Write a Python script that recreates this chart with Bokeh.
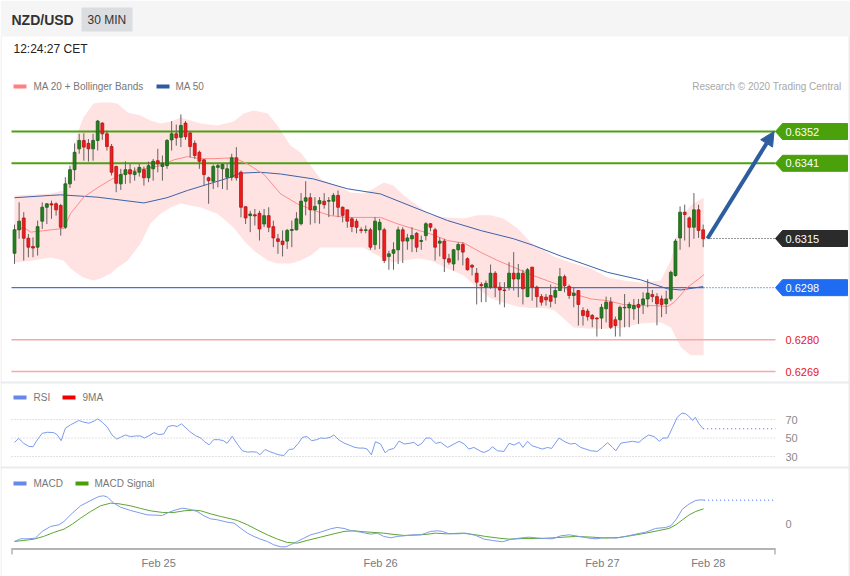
from bokeh.plotting import figure
from bokeh.models import Range1d, ColumnDataSource, Arrow, NormalHead
from bokeh.core.properties import value
from bokeh.embed import file_html
from bokeh.resources import INLINE

# ---------------- data ----------------
opens = [0.63099, 0.63180, 0.63221, 0.63151, 0.63122, 0.63120, 0.63210, 0.63258, 0.63270, 0.63270,
         0.63264, 0.63189, 0.63339, 0.63388, 0.63460, 0.63489, 0.63479, 0.63460, 0.63489, 0.63549,
         0.63512, 0.63468, 0.63399, 0.63339, 0.63371, 0.63388, 0.63371, 0.63379, 0.63388, 0.63360,
         0.63391, 0.63419, 0.63399, 0.63402, 0.63491, 0.63512, 0.63500, 0.63549, 0.63515, 0.63479,
         0.63448, 0.63422, 0.63360, 0.63348, 0.63396, 0.63391, 0.63362, 0.63362, 0.63429, 0.63379,
         0.63260, 0.63229, 0.63232, 0.63237, 0.63200, 0.63229, 0.63191, 0.63149, 0.63141, 0.63141,
         0.63178, 0.63180, 0.63201, 0.63279, 0.63291, 0.63249, 0.63270, 0.63279, 0.63279, 0.63279,
         0.63299, 0.63258, 0.63249, 0.63218, 0.63210, 0.63180, 0.63178, 0.63180, 0.63129, 0.63180,
         0.63180, 0.63088, 0.63099, 0.63111, 0.63180, 0.63141, 0.63149, 0.63168, 0.63140, 0.63160,
         0.63201, 0.63180, 0.63134, 0.63141, 0.63080, 0.63062, 0.63111, 0.63129, 0.63080, 0.63057,
         0.63030, 0.62991, 0.62982, 0.62982, 0.63030, 0.62982, 0.62972, 0.62982, 0.63030, 0.63010,
         0.63030, 0.62949, 0.63051, 0.62982, 0.62949, 0.62947, 0.62953, 0.62947, 0.62970, 0.63018,
         0.62984, 0.62953, 0.62970, 0.62901, 0.62899, 0.62884, 0.62875, 0.62875, 0.62907, 0.62930,
         0.62869, 0.62869, 0.62910, 0.62910, 0.62907, 0.62922, 0.62922, 0.62941, 0.62956, 0.62949,
         0.62941, 0.62924, 0.62941, 0.63022, 0.63152, 0.63241, 0.63221, 0.63189, 0.63249, 0.63180]
highs = [0.63198, 0.63275, 0.63241, 0.63166, 0.63154, 0.63212, 0.63275, 0.63272, 0.63281, 0.63275,
         0.63270, 0.63362, 0.63402, 0.63479, 0.63512, 0.63514, 0.63494, 0.63512, 0.63560, 0.63552,
         0.63523, 0.63477, 0.63402, 0.63391, 0.63417, 0.63408, 0.63396, 0.63408, 0.63399, 0.63416,
         0.63425, 0.63460, 0.63437, 0.63494, 0.63556, 0.63544, 0.63579, 0.63556, 0.63517, 0.63489,
         0.63454, 0.63425, 0.63364, 0.63406, 0.63408, 0.63408, 0.63410, 0.63443, 0.63466, 0.63385,
         0.63260, 0.63246, 0.63252, 0.63246, 0.63252, 0.63258, 0.63212, 0.63166, 0.63178, 0.63183,
         0.63212, 0.63241, 0.63307, 0.63348, 0.63307, 0.63293, 0.63293, 0.63307, 0.63293, 0.63307,
         0.63316, 0.63261, 0.63249, 0.63224, 0.63218, 0.63189, 0.63195, 0.63187, 0.63224, 0.63218,
         0.63187, 0.63108, 0.63137, 0.63191, 0.63189, 0.63166, 0.63189, 0.63172, 0.63160, 0.63206,
         0.63203, 0.63187, 0.63154, 0.63149, 0.63097, 0.63114, 0.63137, 0.63137, 0.63085, 0.63062,
         0.63048, 0.62999, 0.63005, 0.63060, 0.63037, 0.62999, 0.62999, 0.63068, 0.63103, 0.63062,
         0.63042, 0.63048, 0.63051, 0.62987, 0.62958, 0.62958, 0.62991, 0.62984, 0.63048, 0.63025,
         0.62991, 0.62979, 0.62972, 0.62912, 0.62907, 0.62889, 0.62878, 0.62924, 0.62949, 0.62947,
         0.62880, 0.62918, 0.62958, 0.62930, 0.62941, 0.62941, 0.62964, 0.63009, 0.62972, 0.62961,
         0.62953, 0.62970, 0.63039, 0.63149, 0.63261, 0.63267, 0.63226, 0.63307, 0.63267, 0.63198]
lows = [0.63062, 0.63149, 0.63074, 0.63085, 0.63085, 0.63091, 0.63183, 0.63200, 0.63218, 0.63229,
        0.63160, 0.63183, 0.63325, 0.63350, 0.63443, 0.63419, 0.63416, 0.63419, 0.63454, 0.63491,
        0.63454, 0.63368, 0.63310, 0.63318, 0.63339, 0.63341, 0.63350, 0.63364, 0.63333, 0.63345,
        0.63350, 0.63379, 0.63350, 0.63391, 0.63454, 0.63471, 0.63466, 0.63491, 0.63431, 0.63425,
        0.63391, 0.63333, 0.63270, 0.63321, 0.63327, 0.63321, 0.63318, 0.63350, 0.63350, 0.63223,
        0.63200, 0.63172, 0.63195, 0.63143, 0.63189, 0.63172, 0.63120, 0.63097, 0.63088, 0.63114,
        0.63120, 0.63178, 0.63195, 0.63230, 0.63198, 0.63203, 0.63201, 0.63253, 0.63224, 0.63230,
        0.63224, 0.63206, 0.63187, 0.63172, 0.63168, 0.63168, 0.63168, 0.63111, 0.63111, 0.63114,
        0.63065, 0.63042, 0.63042, 0.63062, 0.63065, 0.63111, 0.63103, 0.63103, 0.63111, 0.63143,
        0.63175, 0.63074, 0.63088, 0.63034, 0.63060, 0.63039, 0.63074, 0.63057, 0.63039, 0.63022,
        0.62922, 0.62930, 0.62930, 0.62976, 0.62947, 0.62922, 0.62912, 0.62970, 0.62970, 0.62947,
        0.62922, 0.62947, 0.62935, 0.62912, 0.62918, 0.62918, 0.62912, 0.62924, 0.62970, 0.62964,
        0.62941, 0.62912, 0.62849, 0.62849, 0.62866, 0.62843, 0.62811, 0.62837, 0.62860, 0.62837,
        0.62811, 0.62811, 0.62843, 0.62843, 0.62869, 0.62855, 0.62889, 0.62912, 0.62930, 0.62850,
        0.62878, 0.62889, 0.62933, 0.63018, 0.63111, 0.63143, 0.63120, 0.63149, 0.63152, 0.63120]
closes = [0.63180, 0.63210, 0.63151, 0.63120, 0.63117, 0.63191, 0.63258, 0.63270, 0.63266, 0.63249,
          0.63189, 0.63339, 0.63388, 0.63448, 0.63489, 0.63466, 0.63460, 0.63489, 0.63556, 0.63512,
          0.63468, 0.63379, 0.63341, 0.63371, 0.63388, 0.63373, 0.63381, 0.63396, 0.63360, 0.63402,
          0.63417, 0.63408, 0.63410, 0.63489, 0.63512, 0.63498, 0.63541, 0.63502, 0.63468, 0.63437,
          0.63417, 0.63371, 0.63350, 0.63399, 0.63402, 0.63406, 0.63391, 0.63429, 0.63360, 0.63258,
          0.63221, 0.63235, 0.63228, 0.63183, 0.63229, 0.63189, 0.63152, 0.63140, 0.63129, 0.63178,
          0.63181, 0.63218, 0.63279, 0.63291, 0.63249, 0.63261, 0.63281, 0.63267, 0.63281, 0.63299,
          0.63258, 0.63230, 0.63210, 0.63191, 0.63189, 0.63178, 0.63180, 0.63120, 0.63210, 0.63206,
          0.63074, 0.63097, 0.63111, 0.63180, 0.63141, 0.63152, 0.63160, 0.63120, 0.63143, 0.63201,
          0.63189, 0.63120, 0.63141, 0.63080, 0.63068, 0.63111, 0.63129, 0.63103, 0.63042, 0.63051,
          0.62999, 0.62987, 0.62995, 0.63030, 0.62982, 0.62972, 0.62970, 0.63030, 0.63010, 0.63030,
          0.62976, 0.63042, 0.62982, 0.62949, 0.62930, 0.62938, 0.62933, 0.62970, 0.63018, 0.62987,
          0.62953, 0.62961, 0.62922, 0.62884, 0.62880, 0.62872, 0.62872, 0.62912, 0.62930, 0.62843,
          0.62849, 0.62912, 0.62912, 0.62922, 0.62918, 0.62912, 0.62941, 0.62961, 0.62949, 0.62924,
          0.62922, 0.62941, 0.63033, 0.63141, 0.63241, 0.63233, 0.63189, 0.63249, 0.63178, 0.63149]

ma20_idx = [0, 2, 3.5, 6.3, 10.7, 12.1, 15, 17.9, 20.8, 23, 25.8, 28, 31.6, 34.5, 37.4, 40.3, 43.1,
            47.5, 50.4, 54, 57.6, 61.2, 64.8, 68.4, 72, 75.6, 79.2, 82.8, 86.4, 90, 93.7, 97.3, 100.9,
            104.5, 108.1, 111.7, 115.3, 118.2, 121.1, 124.7, 128.3, 131.9, 135.5, 138.4, 141.3, 142.7,
            145.6, 149.2]
ma20_val = [0.63177, 0.63188, 0.63172, 0.63177, 0.63185, 0.63236, 0.63293, 0.63325, 0.63353, 0.63371,
            0.63385, 0.63391, 0.63402, 0.63422, 0.63433, 0.63426, 0.63426, 0.63429, 0.63408, 0.63371,
            0.63304, 0.63270, 0.63247, 0.63229, 0.63223, 0.63223, 0.63223, 0.63201, 0.63183, 0.63166,
            0.63143, 0.63134, 0.63102, 0.63074, 0.63050, 0.63025, 0.63004, 0.62987, 0.62958, 0.62941,
            0.62935, 0.62921, 0.62918, 0.62918, 0.62915, 0.62929, 0.62981, 0.63025]

ma50_idx = [0, 7.8, 10, 17.9, 28, 33, 37.4, 41.7, 46.8, 48.9, 53.2, 57.6, 64.7, 72, 79.2, 86.4, 93.7,
            101, 108, 112.3, 118.4, 121, 128.3, 135.5, 141.3, 144.2, 149]
ma50_val = [0.63291, 0.63299, 0.63301, 0.63293, 0.63273, 0.63291, 0.63316, 0.63337, 0.63362, 0.63376,
            0.63379, 0.63373, 0.63356, 0.63322, 0.63304, 0.63258, 0.63212, 0.63177, 0.63149, 0.63126,
            0.63088, 0.63074, 0.63033, 0.63007, 0.62976, 0.62972, 0.62984]

bb_idx = [0, 4.1, 7.8, 10.6, 12.1, 13.6, 14.9, 17.1, 18.6, 20.8, 22.3, 24.5, 27.3, 29.4, 31.6, 33.8,
          35.9, 38.1, 40.3, 43.9, 47.4, 49.6, 51.7, 54.8, 56.9, 59.7, 61.9, 64.1, 66.2, 68.4, 70.6,
          72.7, 75.5, 77.7, 79.9, 82.0, 84.2, 87.2, 90.0, 93.7, 97.2, 100.2, 103.0, 105.8, 108.9,
          111.7, 114.5, 116.7, 121.0, 124.7, 128.4, 131.8, 135.5, 139.8, 142.0, 144.2, 146.3, 149.1]
bb_upper = [0.63299, 0.63302, 0.63306, 0.63316, 0.63396, 0.63513, 0.63568, 0.63617, 0.63620, 0.63620,
            0.63617, 0.63586, 0.63575, 0.63558, 0.63548, 0.63555, 0.63568, 0.63558, 0.63548, 0.63541,
            0.63555, 0.63582, 0.63593, 0.63582, 0.63541, 0.63472, 0.63447, 0.63402, 0.63357, 0.63340,
            0.63326, 0.63309, 0.63306, 0.63323, 0.63344, 0.63333, 0.63299, 0.63264, 0.63230, 0.63223,
            0.63219, 0.63230, 0.63230, 0.63219, 0.63185, 0.63136, 0.63109, 0.63088, 0.63064, 0.63046,
            0.63015, 0.63005, 0.62998, 0.63005, 0.63074, 0.63223, 0.63264, 0.63292]
bb_lower = [0.63067, 0.63074, 0.63084, 0.63074, 0.63046, 0.63029, 0.63015, 0.63005, 0.63012, 0.63029,
            0.63050, 0.63074, 0.63133, 0.63202, 0.63236, 0.63257, 0.63271, 0.63264, 0.63257, 0.63236,
            0.63188, 0.63143, 0.63109, 0.63074, 0.63064, 0.63064, 0.63074, 0.63091, 0.63119, 0.63119,
            0.63119, 0.63119, 0.63119, 0.63098, 0.63081, 0.63067, 0.63074, 0.63081, 0.63074, 0.63046,
            0.63022, 0.62977, 0.62943, 0.62929, 0.62914, 0.62910, 0.62910, 0.62903, 0.62842, 0.62838,
            0.62838, 0.62842, 0.62856, 0.62860, 0.62842, 0.62773, 0.62746, 0.62746]

rsi_idx = [0, 0.9, 2.0, 3.1, 4.0, 4.9, 6.0, 7.1, 8.5, 9.2, 10.1, 11.0, 12.1, 13.9, 15.0, 16.1, 17.2,
           18.0, 19.0, 20.1, 21.1, 22.1, 22.9, 24.0, 25.1, 26.2, 27.3, 28.1, 29.1, 30.2, 31.2, 32.3,
           33.2, 34.3, 35.2, 36.1, 37.1, 38.1, 39.2, 40.3, 41.1, 42.1, 43.1, 44.2, 45.2, 46.0, 47.1,
           48.2, 49.3, 50.4, 51.4, 52.4, 53.1, 54.2, 55.3, 56.3, 57.2, 58.3, 59.4, 60.3, 61.4, 62.3,
           63.3, 64.3, 65.4, 66.2, 67.3, 68.3, 69.1, 70.2, 71.3, 72.4, 73.4, 74.5, 75.6, 76.3, 77.2,
           78.1, 79.2, 80.2, 81.0, 82.1, 83.2, 84.3, 85.4, 86.4, 87.3, 88.2, 89.0, 90.0, 91.1, 92.2,
           93.7, 95.1, 96.2, 97.3, 98.3, 99.4, 100.9, 101.6, 102.7, 103.4, 104.5, 105.9, 107.0, 108.1,
           109.2, 110.0, 111.0, 112.0, 113.1, 114.2, 115.3, 116.2, 117.8, 119.3, 120.3, 121.3, 122.5,
           123.6, 124.7, 126.1, 127.2, 128.3, 129.4, 130.1, 131.2, 132.2, 133.7, 135.1, 136.2, 137.2,
           138.4, 139.5, 140.3, 141.3, 142.4, 143.4, 144.4, 145.2, 146.1, 146.7, 147.3, 148.1, 149.0]
rsi_val = [45.3, 49.6, 44.2, 40.9, 40.5, 47.8, 55.1, 56.2, 55.8, 53.6, 47.1, 60.5, 64.2, 68.9, 67.1,
           66.0, 68.2, 70.7, 67.1, 61.6, 53.3, 48.9, 50.7, 53.3, 51.5, 52.2, 52.2, 50.0, 52.5, 55.8,
           53.6, 54.4, 62.4, 63.5, 62.4, 65.3, 60.9, 56.2, 52.5, 50.0, 46.0, 42.7, 48.2, 48.2, 47.1,
           44.2, 51.8, 43.5, 36.2, 34.7, 35.1, 34.7, 31.8, 37.6, 35.1, 33.3, 31.8, 31.1, 37.6, 38.0,
           44.2, 50.7, 51.5, 47.1, 48.2, 50.0, 49.6, 50.7, 53.3, 47.8, 44.5, 42.4, 40.2, 39.1, 39.1,
           38.0, 31.8, 46.0, 43.5, 34.0, 37.3, 38.7, 46.7, 43.5, 44.2, 45.3, 41.6, 44.5, 50.0, 50.0,
           44.2, 45.3, 39.8, 43.5, 46.4, 43.5, 38.0, 39.8, 35.5, 34.4, 36.9, 40.5, 36.2, 35.5, 44.2,
           42.4, 45.3, 39.8, 46.4, 41.6, 39.8, 38.0, 39.8, 38.7, 50.0, 45.3, 43.5, 44.2, 39.8, 38.0,
           36.2, 35.5, 39.8, 44.9, 39.8, 36.2, 44.5, 45.3, 46.4, 45.3, 50.0, 53.3, 51.5, 46.4, 50.0,
           50.0, 61.6, 72.5, 76.9, 76.2, 72.5, 68.9, 72.5, 65.3, 60.0]
rsi_levels = [70, 50, 30]

macd_idx = [0.0, 1.3, 3.1, 4.5, 6.0, 7.8, 9.6, 10.7, 12.5, 14.3, 16.1, 17.2, 18.3, 19.3, 20.1, 21.5,
            22.9, 25.1, 27.3, 28.7, 30.2, 32.0, 33.0, 34.5, 36.3, 37.7, 39.5, 41.0, 42.4, 43.9, 46.0,
            47.5, 48.9, 50.4, 51.8, 53.2, 54.7, 56.1, 57.6, 58.7, 59.7, 61.2, 62.6, 64.1, 66.2, 68.4,
            69.8, 71.3, 72.7, 74.9, 77.1, 78.5, 79.9, 81.4, 82.8, 84.3, 86.4, 87.9, 89.0, 90.0, 91.5,
            92.6, 94.0, 96.2, 97.6, 99.8, 101.6, 103.4, 105.6, 107.0, 109.2, 111.3, 113.5, 116.4,
            118.2, 120.0, 122.2, 124.3, 125.8, 127.9, 130.1, 132.2, 134.4, 136.6, 138.7, 140.9, 142.0,
            143.1, 144.5, 146.0, 147.4, 148.5, 149.2]
macd_val = [-0.000353, -0.000300, -0.000300, -0.000287, -0.000153, -0.000053, -0.000020, 0.000047,
            0.000213, 0.000360, 0.000447, 0.000500, 0.000547, 0.000560, 0.000533, 0.000413, 0.000333,
            0.000267, 0.000213, 0.000180, 0.000173, 0.000167, 0.000213, 0.000267, 0.000313, 0.000293,
            0.000247, 0.000160, 0.000100, 0.000080, 0.000033, 0.000013, -0.000087, -0.000187,
            -0.000253, -0.000307, -0.000353, -0.000420, -0.000460, -0.000460, -0.000420, -0.000353,
            -0.000287, -0.000220, -0.000167, -0.000100, -0.000073, -0.000093, -0.000133, -0.000167,
            -0.000207, -0.000187, -0.000253, -0.000280, -0.000253, -0.000240, -0.000220, -0.000220,
            -0.000187, -0.000153, -0.000140, -0.000153, -0.000200, -0.000200, -0.000187, -0.000233,
            -0.000307, -0.000333, -0.000360, -0.000320, -0.000287, -0.000267, -0.000287, -0.000300,
            -0.000240, -0.000220, -0.000253, -0.000287, -0.000300, -0.000273, -0.000287, -0.000253,
            -0.000207, -0.000167, -0.000093, -0.000073, -0.000040, 0.000080, 0.000293, 0.000400,
            0.000467, 0.000480, 0.000473]
signal_idx = [0.0, 2.0, 4.2, 6.3, 8.5, 10.7, 12.5, 14.3, 16.5, 18.6, 20.8, 22.6, 25.1, 27.3, 29.4,
              32.0, 34.5, 36.7, 38.8, 40.3, 42.4, 44.6, 46.8, 48.2, 50.4, 52.5, 54.7, 56.9, 59.0,
              61.2, 63.3, 66.2, 69.1, 71.3, 73.4, 75.6, 77.8, 79.9, 82.1, 84.3, 86.4, 89.0, 91.1,
              93.3, 96.9, 99.8, 101.9, 104.8, 107.0, 110.6, 114.2, 117.8, 121.4, 125.0, 127.9, 130.8,
              133.7, 136.6, 139.5, 141.6, 143.1, 144.5, 146.0, 147.4, 149.1]
signal_val = [-0.000353, -0.000333, -0.000307, -0.000253, -0.000173, -0.000107, -0.000007, 0.000113,
              0.000247, 0.000360, 0.000413, 0.000400, 0.000360, 0.000307, 0.000260, 0.000227,
              0.000227, 0.000260, 0.000273, 0.000260, 0.000200, 0.000147, 0.000100, 0.000067,
              -0.000020, -0.000120, -0.000220, -0.000307, -0.000373, -0.000387, -0.000333,
              -0.000267, -0.000200, -0.000153, -0.000140, -0.000160, -0.000173, -0.000187,
              -0.000213, -0.000233, -0.000227, -0.000213, -0.000187, -0.000200, -0.000187,
              -0.000220, -0.000253, -0.000287, -0.000307, -0.000293, -0.000293, -0.000273,
              -0.000253, -0.000267, -0.000287, -0.000273, -0.000233, -0.000187, -0.000133,
              -0.000093, -0.000020, 0.000080, 0.000180, 0.000247, 0.000300]
macd_levels = [0]

resistance_levels = [0.6352, 0.6341]
support_levels = [0.6280, 0.6269]
pivot_level = 0.6298
last_price = 0.6315

date_ticks = [31.2, 79.2, 127.2, 150.1]
date_labels = ["Feb 25", "Feb 26", "Feb 27", "Feb 28"]

# ---------------- geometry (reference pixels) ----------------
W, H = 850, 576
PX_L, PX_R, PX_T, PX_B = 0, 850, 0, 576
C0, STEP = 14.0, 4.622


def ix(px):
    return (px - C0) / STEP


PPX = 28920.0           # price units -> pixels
P_ANCHOR, Y_ANCHOR = 0.6352, 131.0
RSI_PX = 0.925
MACD_PX = 50000.0
MACD_ZERO_Y = 523.3

X0, X1 = ix(11), ix(775)
LAB_X = ix(785)
FONT = value("Liberation Sans")

p = figure(width=W, height=H, output_backend="svg", toolbar_location=None,
           x_range=Range1d(ix(PX_L), ix(PX_R)),
           y_range=Range1d(P_ANCHOR - (PX_B - Y_ANCHOR) / PPX, P_ANCHOR + (Y_ANCHOR - PX_T) / PPX),
           x_axis_location=None, y_axis_location=None, min_border=0)
p.extra_y_ranges = {
    "rsi": Range1d(70 - (PX_B - 419) / RSI_PX, 70 + (419 - PX_T) / RSI_PX),
    "macd": Range1d(-(PX_B - MACD_ZERO_Y) / MACD_PX, (MACD_ZERO_Y - PX_T) / MACD_PX),
    "px": Range1d(PX_B, PX_T),
}
p.extra_x_ranges = {"pxx": Range1d(PX_L, PX_R)}
p.grid.visible = False
p.outline_line_color = None
p.background_fill_color = "white"
p.border_fill_color = "white"

PXR = dict(x_range_name="pxx", y_range_name="px")

# page decorations
p.quad(left=[PX_L], right=[PX_R], top=[PX_T], bottom=[36], fill_color="#f5f5f6", line_color=None, **PXR)
p.quad(left=[81], right=[132], top=[7], bottom=[31], fill_color="#dcdde1", line_color=None, **PXR)
p.quad(left=[PX_L, PX_L], right=[PX_R, PX_R], top=[381, 466], bottom=[383, 468],
       fill_color="#e9ebef", line_color=None, **PXR)
p.quad(left=[0, 848], right=[1, 850], top=[36, 36], bottom=[PX_B, PX_B],
       fill_color="#e9ebef", line_color=None, **PXR)

# Bollinger band
p.varea(x=bb_idx, y1=bb_lower, y2=bb_upper, fill_color="#ffe3e3")

# level lines
for lv in resistance_levels:
    p.line([X0, X1], [lv, lv], line_color="#4e9f12", line_width=2)
for lv in support_levels:
    p.line([X0, X1], [lv, lv], line_color="#f6a9a9", line_width=1.5)
p.line([X0, ix(703)], [pivot_level, pivot_level], line_color="#3d74e0", line_width=1.3)
p.line([ix(703), X1], [pivot_level, pivot_level], line_color="#3d74e0", line_width=1.3, line_dash="1 2")
p.line([ix(707), X1], [last_price, last_price], line_color="#333333", line_width=1, line_dash="1 2")

# moving averages
p.line(ma50_idx, ma50_val, line_color="#3d62a8", line_width=1)
p.line(ma20_idx, ma20_val, line_color="#ff8a8a", line_width=1)

# candles
idx = list(range(len(closes)))
up = [c >= o for o, c in zip(opens, closes)]
src = ColumnDataSource(dict(
    x=idx, h=highs, l=lows,
    top=[max(o, c) for o, c in zip(opens, closes)],
    bot=[min(o, c) for o, c in zip(opens, closes)],
    fill=["#237f1f" if u else "#ee1c1c" for u in up],
    edge=["#1b5e18" if u else "#b81313" for u in up],
))
p.segment(x0="x", y0="l", x1="x", y1="h", line_color="#6a6060", line_width=1, source=src)
p.vbar(x="x", width=0.62, top="top", bottom="bot", fill_color="fill", line_color="edge",
       line_width=0.8, source=src)

# arrow
p.add_layout(Arrow(end=NormalHead(size=14, fill_color="#2e5d9e", line_color="#2e5d9e"),
                   x_start=ix(707), y_start=last_price, x_end=ix(773.5), y_end=resistance_levels[0],
                   line_color="#2e5d9e", line_width=4))

# price tags
HH = 8 / PPX
tag_levels = resistance_levels + [last_price, pivot_level]
tag_colors = ["#4aa10b", "#4aa10b", "#2b2b2b", "#1f6cf2"]
tag_xs = [[X1, ix(782), ix(847), ix(847), ix(782)] for _ in tag_levels]
tag_ys = [[lv, lv + HH, lv + HH, lv - HH, lv - HH] for lv in tag_levels]
p.patches(xs=tag_xs, ys=tag_ys, fill_color=tag_colors, line_color=tag_colors)
p.text(x=[LAB_X] * len(tag_levels), y=tag_levels, text=["%.4f" % v for v in tag_levels],
       text_color="white", text_font=FONT, text_font_size="11px", text_baseline="middle")
p.text(x=[LAB_X] * len(support_levels), y=support_levels, text=["%.4f" % v for v in support_levels],
       text_color="#e8141c", text_font=FONT, text_font_size="11px", text_baseline="middle")

# RSI panel
for lv in rsi_levels:
    p.line([X0, X1], [lv, lv], line_color="#c4c4c4", line_width=1, line_dash="1 2", y_range_name="rsi")
p.line(rsi_idx, rsi_val, line_color="#7d9bec", line_width=1, y_range_name="rsi")
p.line([rsi_idx[-1], X1], [rsi_val[-1], rsi_val[-1]], line_color="#3a6cf0", line_width=1,
       line_dash="1 3", y_range_name="rsi")
p.text(x=[LAB_X] * 3, y=rsi_levels, text=[str(v) for v in rsi_levels], text_color="#8a8a8a",
       text_font=FONT, text_font_size="11px", text_baseline="middle", y_range_name="rsi")

# MACD panel
p.line(signal_idx, signal_val, line_color="#5ca630", line_width=1, y_range_name="macd")
p.line(macd_idx, macd_val, line_color="#7d9bec", line_width=1, y_range_name="macd")
p.line([macd_idx[-1], X1], [macd_val[-1], macd_val[-1]], line_color="#3a6cf0", line_width=1,
       line_dash="1 3", y_range_name="macd")
p.text(x=[LAB_X], y=macd_levels, text=[str(v) for v in macd_levels], text_color="#8a8a8a",
       text_font=FONT, text_font_size="11px", text_baseline="middle", y_range_name="macd")

# time axis
p.line([11, 775], [548.5, 548.5], line_color="#b4b4b4", line_width=2, **PXR)
p.segment(x0=[11.5, 774.5], y0=[548, 548], x1=[11.5, 774.5], y1=[554, 554], line_color="#b4b4b4",
          line_width=1.5, **PXR)
p.text(x=date_ticks, y=[562] * len(date_ticks), text=date_labels, text_color="#7a7a7a",
       text_font=FONT, text_font_size="11px", text_align="center", text_baseline="middle",
       y_range_name="px")

# header texts
p.text(x=[11], y=[19.5], text=["NZD/USD"], text_color="#333333", text_font=FONT,
       text_font_size="14px", text_font_style="bold", text_baseline="middle", **PXR)
p.text(x=[87], y=[19], text=["30 MIN"], text_color="#333333", text_font=FONT,
       text_font_size="12px", text_baseline="middle", **PXR)
p.text(x=[13], y=[48.5], text=["12:24:27 CET"], text_color="#222222", text_font=FONT,
       text_font_size="12px", text_baseline="middle", **PXR)

# legends
leg_rect_l = [13, 156, 13, 62, 13, 75]
leg_rect_r = [26, 169, 26, 75, 26, 88]
leg_rect_y = [86, 86, 397, 397, 483, 483]
leg_colors = ["#ff8080", "#2e5d9f", "#6688e8", "#ee0000", "#6688e8", "#4a9e0a"]
p.quad(left=leg_rect_l, right=leg_rect_r, top=[y - 2 for y in leg_rect_y],
       bottom=[y + 2 for y in leg_rect_y], fill_color=leg_colors, line_color=None, **PXR)
p.text(x=[33, 175, 33, 82, 33, 94], y=leg_rect_y,
       text=["MA 20 + Bollinger Bands", "MA 50", "RSI", "9MA", "MACD", "MACD Signal"],
       text_color="#777777", text_font=FONT, text_font_size="10px", text_baseline="middle", **PXR)
p.text(x=[841], y=[86], text=["Research © 2020 Trading Central"], text_color="#a8a8a8",
       text_font=FONT, text_font_size="10px", text_align="right", text_baseline="middle", **PXR)

open("out.html", "w").write(file_html(p, INLINE))
